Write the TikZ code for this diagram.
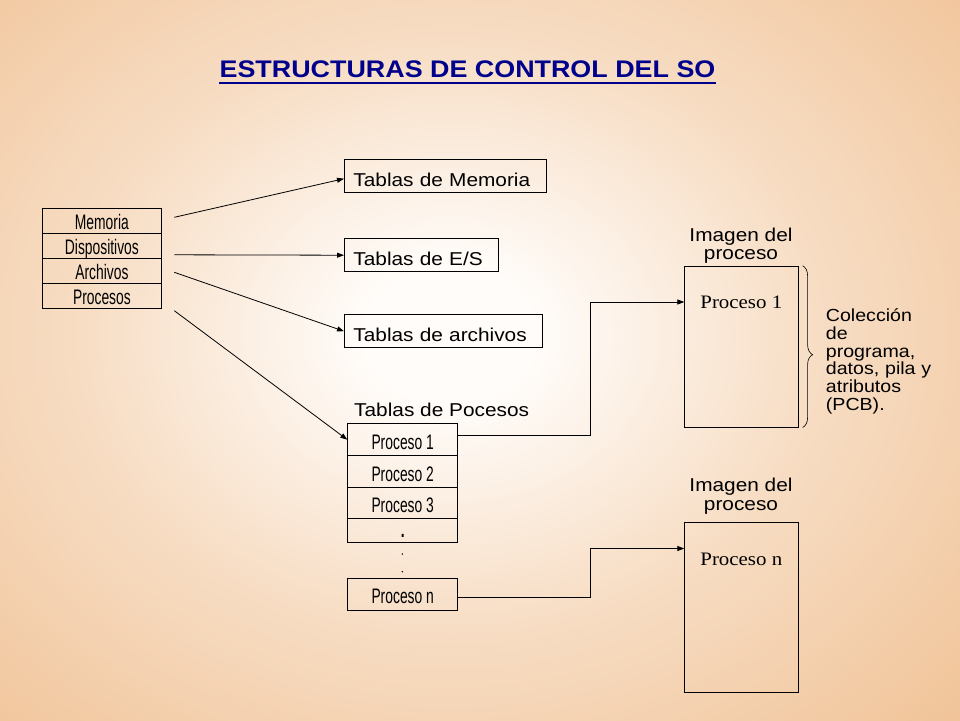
\documentclass[tikz,border=0pt]{standalone}
\usepackage{fontspec}
\setmainfont{Liberation Sans}[FakeStretch=1.12]
\newfontfamily\narrowfont{Liberation Sans}[FakeStretch=0.66]
\newfontfamily\imgserif{Liberation Serif}[FakeStretch=1.1]
\usetikzlibrary{arrows.meta,decorations.pathreplacing,calc}
\definecolor{bgedge}{RGB}{240,193,148}
\definecolor{bgmid}{RGB}{247,221,196}
\definecolor{bgcenter}{RGB}{255,252,249}
\definecolor{titleblue}{RGB}{0,0,140}
\pgfdeclareradialshading{bgshade}{\pgfpoint{0bp}{0bp}}{color(0bp)=(bgcenter); color(4bp)=(bgcenter); color(17bp)=(bgmid); color(34bp)=(bgedge); color(80bp)=(bgedge)}
\begin{document}
\begin{tikzpicture}[x=1pt,y=-1pt,
  arr/.style={draw, line width=0.8pt, -{Triangle[length=7pt,width=5pt]}},
  tbox/.style={draw, line width=0.8pt, inner xsep=9pt, inner ysep=0pt, text height=27pt, text depth=6pt, align=left, anchor=north west, font=\fontsize{18.6}{18}\selectfont},
  plain/.style={inner sep=0pt, font=\fontsize{18.6}{18}\selectfont},
  cellL/.style={draw, line width=0.8pt, minimum width=118.4pt, inner sep=0pt, text height=20.5pt, text depth=4.5pt, anchor=north west, font=\narrowfont\fontsize{21}{21}\selectfont},
  cellP/.style={draw, line width=0.8pt, minimum width=110pt, inner sep=0pt, anchor=north west, font=\narrowfont\fontsize{21}{21}\selectfont},
  imgbox/.style={draw, line width=0.8pt, minimum width=114pt, inner sep=0pt, anchor=north west},
  imgtext/.style={inner sep=0pt, anchor=base, font=\imgserif\fontsize{19}{19}\selectfont}
]
% background
\begin{scope}
\clip (0,0) rectangle (960,720);
\begin{scope}[shift={(450,335)}, yscale=0.8]
\shade[shading=bgshade] (-540,-540) rectangle (540,540);
\end{scope}
\end{scope}
\useasboundingbox (0,0) rectangle (960,720);

% title
\node[inner sep=0pt, anchor=base, text=titleblue, font=\bfseries\fontsize{24}{24}\selectfont] (title) at (467.5,77.3) {ESTRUCTURAS DE CONTROL DEL SO};
\draw[titleblue, line width=2pt] ([yshift=-5.4pt]title.base west) -- ([yshift=-5.4pt]title.base east);

% left table
\node[cellL] (mem) at (42.3,208.3) {Memoria};
\node[cellL] (disp) at (42.3,233.3) {Dispositivos};
\node[cellL] (arch) at (42.3,258.3) {Archivos};
\node[cellL] (proc) at (42.3,283.3) {Procesos};

% tables
\node[tbox, text width=184pt] (tm) at (344,159.3) {Tablas de Memoria};
\node[tbox, text width=136pt] (tes) at (344,238.3) {Tablas de E/S};
\node[tbox, text width=180pt] (ta) at (344,314.3) {Tablas de archivos};
\node[plain, anchor=base west] (tpl) at (354,416.7) {Tablas de Pocesos};

% process table
\node[cellP, text height=25.7pt, text depth=6.3pt] (p1) at (347.3,423.3) {Proceso 1};
\node[cellP, text height=25.7pt, text depth=6.3pt] (p2) at (347.3,455.3) {Proceso 2};
\node[cellP, text height=25pt, text depth=6pt] (p3) at (347.3,487.3) {Proceso 3};
\node[cellP, text height=19pt, text depth=5pt] (p4) at (347.3,518.3) {\bfseries .};
\fill (402.3,554) circle (0.8);
\fill (402.3,571.7) circle (0.8);
\node[cellP, text height=25pt, text depth=6.7pt] (pn) at (347.3,578.3) {Proceso n};

% process images
\node[plain, anchor=base] (im1a) at (741,241.7) {Imagen del};
\node[plain, anchor=base] (im1b) at (741,259.3) {proceso};
\node[imgbox, minimum height=161pt] (img1) at (684.3,265.7) {};
\node[imgtext] (pt1) at (741.3,308.7) {Proceso 1};

\node[plain, anchor=base] (im2a) at (741,491.7) {Imagen del};
\node[plain, anchor=base] (im2b) at (741,510) {proceso};
\node[imgbox, minimum height=170pt] (img2) at (684.3,522.3) {};
\node[imgtext] (ptn) at (741.3,565) {Proceso n};

% brace and description
\draw[decorate, decoration={brace, amplitude=10pt, aspect=0.55}, line width=0.6pt]
  ([xshift=3.5pt]img1.north east) -- ([xshift=3.5pt]img1.south east);
\node[inner sep=0pt, anchor=base west, align=left, text width=120pt, font=\fontsize{17.5}{17.7}\selectfont] (desc) at (825.7,321.7)
  {Colección\\de\\programa,\\datos, pila y\\atributos\\(PCB).};

% connectors
\coordinate (s1) at (174.3,217.3);
\coordinate (s2) at (174.3,254.8);
\coordinate (s3) at (174.3,272.3);
\coordinate (s4) at (174.3,310.7);
\draw[arr] (s1) -- ([yshift=-2.5pt]tm.west);
\draw[arr] (s2) -- (tes.west);
\draw[arr] (s3) -- (ta.west);
\draw[arr] (s4) -- (p1.west);

\coordinate (k1) at (590,302);
\coordinate (k2) at (590,548.5);
\draw[arr] ([yshift=4pt]p1.east) -| (k1) -- (k1 -| img1.west);
\draw[arr] ([yshift=-2.5pt]pn.east) -| (k2) -- (k2 -| img2.west);
\end{tikzpicture}
\end{document}
